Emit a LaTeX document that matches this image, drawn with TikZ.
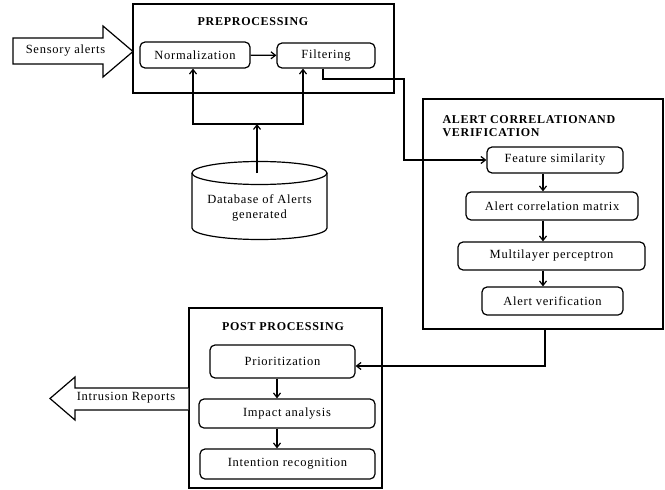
\documentclass[tikz,border=0pt]{standalone}
\usepackage{fontspec}
\setmainfont{Liberation Serif}[LetterSpace=6]
\usetikzlibrary{arrows.meta,calc}
\begin{document}
\begin{tikzpicture}[x=1pt,y=-1pt,
  line width=1.2pt,
  arr/.style={-{Straight Barb[length=4.5pt,width=7pt,line width=1.2pt]}},
  grp/.style={draw,rectangle,inner sep=0pt},
  proc/.style={draw,rectangle,rounded corners=5pt,inner sep=0pt,font=\fontsize{12.5}{14}\selectfont},
  ttl/.style={font=\fontsize{12}{14}\selectfont\bfseries,inner sep=0pt},
  lbl/.style={font=\fontsize{12.5}{15}\selectfont,inner sep=0pt,align=center}]
\useasboundingbox (0,0) rectangle (665,490);

% groups
\node[grp,minimum width=261pt,minimum height=89pt] (pre) at (263.5,48.5) {};
\node[grp,minimum width=240pt,minimum height=230pt] (corr) at (543,214) {};
\node[grp,minimum width=193pt,minimum height=180pt] (post) at (285.5,398) {};

% titles
\node[ttl] (pret) at (253,22) {PREPROCESSING};
\node[ttl,anchor=west,align=left] (corrt) at (442,126.5) {ALERT CORRELATIONAND\\[-1pt]VERIFICATION};
\node[ttl] (postt) at (283,327) {POST PROCESSING};

% preprocessing
\node[proc,minimum width=110pt,minimum height=26pt] (norm) at (195,55) {Normalization};
\node[proc,minimum width=98pt,minimum height=25pt] (filt) at (326,55.5) {Filtering};

% correlation
\node[proc,minimum width=136pt,minimum height=26pt] (feat) at (555,160) {Feature similarity};
\node[proc,minimum width=172pt,minimum height=28pt] (acm) at (552,206) {Alert correlation matrix};
\node[proc,minimum width=187pt,minimum height=28pt] (mlp) at (551.5,256) {Multilayer perceptron};
\node[proc,minimum width=141pt,minimum height=28pt] (aver) at (552.5,301) {Alert verification};

% post processing
\node[proc,minimum width=145pt,minimum height=33pt] (prio) at (282.5,361.5) {Prioritization};
\node[proc,minimum width=176pt,minimum height=29pt] (imp) at (287,413.5) {Impact analysis};
\node[proc,minimum width=175pt,minimum height=30pt] (intn) at (287.5,464) {Intention recognition};

% database cylinder
\draw (192,173) arc[start angle=180,end angle=-180,x radius=67.5,y radius=11.5];
\draw (192,173) -- (192,228) arc[start angle=180,end angle=0,x radius=67.5,y radius=11.5] -- (327,173);
\node[lbl] (db) at (259.5,208) {Database of Alerts\\generated};
\coordinate (dbtop) at (257,173);

% block arrows
\coordinate (sensTip) at (133,51.5);
\draw[fill=white] (13,38) -- (103,38) -- (103,26) -- (sensTip) -- (103,77) -- (103,64) -- (13,64) -- cycle;
\node[lbl] (sens) at (65.5,51) {Sensory alerts};

\coordinate (irTip) at (50,398.5);
\draw[fill=white] (post.west |- 0,388) -- (75,388) -- (75,377) -- (irTip) -- (75,420) -- (75,410) -- (post.west |- 0,410);
\node[lbl] (ir) at (126,398) {Intrusion Reports};

% connectors
\coordinate (split) at (257,124);
\draw[arr] (dbtop) -- (split);
\draw[arr] (split) -| (norm.south -| 193,0);
\draw[arr] (split) -| (filt.south -| 303,0);
\draw[arr] (norm) -- (filt);

\coordinate (fr) at (404,79);
\draw[arr] (filt.south -| 323,0) |- (fr) |- (feat.west);

\coordinate (xa) at (543,0);
\draw[arr] (feat.south -| xa) -- (acm.north -| xa);
\draw[arr] (acm.south -| xa) -- (mlp.north -| xa);
\draw[arr] (mlp.south -| xa) -- (aver.north -| xa);

\draw[arr] (corr.south -| 545,0) |- ($(prio.east)+(0,4.5)$);

\coordinate (xb) at (277,0);
\draw[arr] (prio.south -| xb) -- (imp.north -| xb);
\draw[arr] (imp.south -| xb) -- (intn.north -| xb);
\end{tikzpicture}
\end{document}
